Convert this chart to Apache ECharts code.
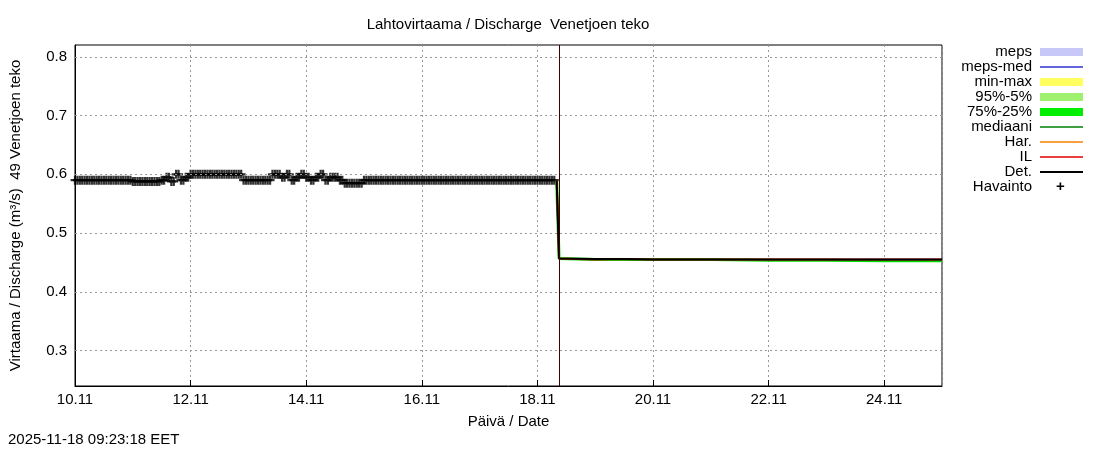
<!DOCTYPE html>
<html><head><meta charset="utf-8">
<script src="https://cdn.jsdelivr.net/npm/echarts@6/dist/echarts.min.js"></script>
<style>body{margin:0}#c{width:1100px;height:450px}</style></head>
<body><div id="c"></div>
<script>
var DAY = 86400000;
var t0 = Date.UTC(2025, 10, 10);
var tEnd = Date.UTC(2025, 10, 25);
var tNow = Date.UTC(2025, 10, 18, 9);
var yTicks = [0.3, 0.4, 0.5, 0.6, 0.7, 0.8];

// observations, 2-hour steps from 10.11 00:00
var obsValues = [
  0.59,0.59,0.59,0.59,0.59,0.59,0.59,0.59,0.59,0.59,0.59,0.59,
  0.588,0.588,0.588,0.588,0.588,0.588,0.59,0.595,0.588,0.6,0.59,0.595,
  0.6,0.6,0.6,0.6,0.6,0.6,0.6,0.6,0.6,0.6,0.6,0.59,
  0.59,0.59,0.59,0.59,0.59,0.6,0.6,0.595,0.6,0.59,0.595,0.6,
  0.595,0.59,0.595,0.6,0.59,0.595,0.595,0.59,0.585,0.585,0.585,0.585,
  0.59,0.59,0.59,0.59,0.59,0.59,0.59,0.59,0.59,0.59,0.59,0.59,
  0.59,0.59,0.59,0.59,0.59,0.59,0.59,0.59,0.59,0.59,0.59,0.59,
  0.59,0.59,0.59,0.59,0.59,0.59,0.59,0.59,0.59,0.59,0.59,0.59,
  0.59,0.59,0.59,0.59
];
// forecast (hours after 18.11 00:00)
var fcHours = [8, 9, 24, 36, 48, 72, 96, 120, 144, 168];
var detValues = [0.59, 0.457, 0.456, 0.456, 0.455, 0.455, 0.455, 0.455, 0.455, 0.455];
var ilValues  = [0.59, 0.457, 0.455, 0.456, 0.455, 0.455, 0.455, 0.455, 0.455, 0.455];
var medValues = [0.59, 0.457, 0.455, 0.455, 0.455, 0.455, 0.454, 0.454, 0.453, 0.453];
var bandHours = [96, 120, 144, 168];
var minValues = [0.455, 0.454, 0.452, 0.451];
var maxValues = [0.455, 0.457, 0.458, 0.459];

var obs = [];
obsValues.forEach(function (v, i) {
  // each 2-hour reading drawn twice (hourly marks) like the dense reference
  obs.push([t0 + i * 2 * 3600000, v]);
  obs.push([t0 + (i * 2 + 1) * 3600000, v]);
});
var fcBase = Date.UTC(2025, 10, 18);
function fc(hours, vals) { return hours.map(function (h, i) { return [fcBase + h * 3600000, vals[i]]; }); }

var legendItems = [
  ['meps', '#c8c8f8', 8], ['meps-med', '#3030d0', 1.5], ['min-max', '#ffff60', 8],
  ['95%-5%', '#a0f070', 8], ['75%-25%', '#00ee00', 8], ['mediaani', '#008000', 1.5],
  ['Har.', '#ff8000', 1.5], ['IL', '#e00000', 1.5], ['Det.', '#000000', 2]
];
var graphic = [];
legendItems.forEach(function (it, i) {
  var y = 52 + i * 15;
  graphic.push({ type: 'text', right: 68, top: y - 8, style: { text: it[0], font: '15px "Liberation Sans", Arial', fill: '#000', textAlign: 'right' } });
  graphic.push({ type: 'rect', shape: { x: 1040, y: y - it[2] / 2, width: 43, height: it[2] }, style: { fill: it[1] } });
});
graphic.push({ type: 'text', right: 68, top: 52 + 9 * 15 - 8, style: { text: 'Havainto', font: '15px "Liberation Sans", Arial', fill: '#000' } });
graphic.push({ type: 'text', left: 1056, top: 179, style: { text: '+', font: 'bold 15px "Liberation Sans", Arial', fill: '#000' } });
graphic.push({ type: 'text', left: 8, top: 432, style: { text: '2025-11-18 09:23:18 EET', font: '15px "Liberation Sans", Arial', fill: '#000' } });

function tenth(v) { return Math.abs(v * 10 - Math.round(v * 10)) < 1e-6; }

var chart = echarts.init(document.getElementById('c'));
chart.setOption({
  animation: false,
  textStyle: { fontFamily: '"Liberation Sans", Arial' },
  title: { text: 'Lahtovirtaama / Discharge  Venetjoen teko', left: 503, top: 12, textAlign: 'center',
    textStyle: { fontSize: 15, fontWeight: 'normal', color: '#000' } },
  grid: { left: 73, right: 158, top: 45, bottom: 64, show: true, borderColor: '#000', borderWidth: 1 },
  graphic: graphic,
  xAxis: {
    type: 'value', min: t0, max: tEnd, interval: 2 * DAY,
    name: 'Päivä / Date', nameLocation: 'middle', nameGap: 28,
    nameTextStyle: { fontSize: 15, color: '#000' },
    axisLine: { lineStyle: { color: '#000' } },
    axisTick: { inside: true, length: 6, lineStyle: { color: '#000' } },
    axisLabel: { fontSize: 15, color: '#000', margin: 6, showMaxLabel: false, formatter: function (v) {
      if (v >= tEnd) return '';
      var d = new Date(v); return d.getUTCDate() + '.' + (d.getUTCMonth() + 1); } },
    splitLine: { show: true, lineStyle: { color: '#999', type: [2, 3] } }
  },
  yAxis: {
    type: 'value', min: 0.24, max: 0.82, interval: 0.02,
    name: 'Virtaama / Discharge (m³/s)  49 Venetjoen teko', nameLocation: 'middle', nameGap: 52,
    nameTextStyle: { fontSize: 15, color: '#000' },
    axisLine: { lineStyle: { color: '#000' } },
    axisTick: { show: false },
    axisLabel: { fontSize: 15, color: '#000', margin: 8, showMinLabel: false, showMaxLabel: false,
      formatter: function (v) { return tenth(v) ? v.toFixed(1) : ''; } },
    splitLine: { show: false }
  },
  series: [
    { type: 'line', data: fc(bandHours, minValues), stack: 'mm', symbol: 'none', lineStyle: { width: 0 },
      markLine: { symbol: 'none', silent: true, label: { show: false },
        lineStyle: { color: '#999', width: 1, type: [2, 3] },
        data: yTicks.map(function (v) { return { yAxis: v }; }) } },
    { type: 'line', data: fc(bandHours, maxValues.map(function (v, i) { return v - minValues[i]; })), stack: 'mm',
      symbol: 'none', lineStyle: { width: 0 }, areaStyle: { color: '#ffff60', opacity: 1 } },
    { type: 'line', data: fc(fcHours, medValues), symbol: 'none', lineStyle: { color: '#00dd00', width: 3 } },
    { type: 'line', data: fc(fcHours, ilValues), symbol: 'none', lineStyle: { color: '#e00000', width: 2 } },
    { type: 'line', data: fc(fcHours, detValues), symbol: 'none', lineStyle: { color: '#000', width: 2 },
      markLine: { symbol: 'none', silent: true, label: { show: false },
        lineStyle: { color: '#400000', width: 1, type: 'solid' }, data: [{ xAxis: tNow }] } },
    { type: 'scatter', data: obs, symbol: 'path://M3,0h2v8h-2zM0,3h8v2h-8z', symbolSize: 9,
      itemStyle: { color: '#000' } }
  ]
});
</script></body></html>
